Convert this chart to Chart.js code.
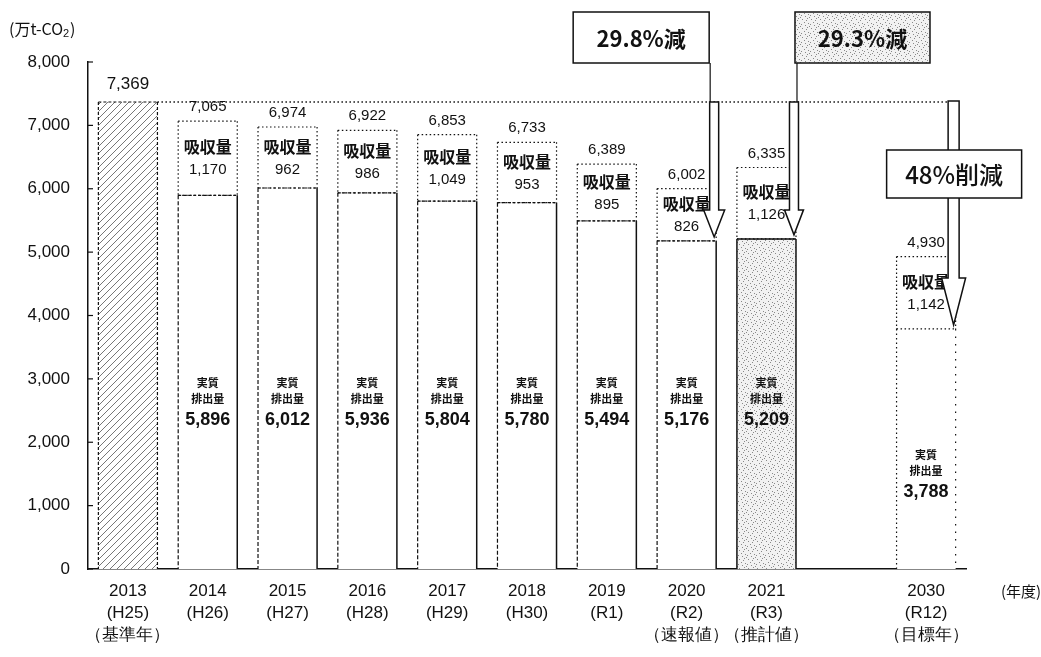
<!DOCTYPE html>
<html>
<head>
<meta charset="utf-8">
<script src="https://cdn.jsdelivr.net/npm/chart.js@4.4.0/dist/chart.umd.min.js"></script>
<style>
  body { margin: 0; background: #fff; }
</style>
</head>
<body>
<canvas id="chart" width="1041" height="657"></canvas>
<script>
// データ
const years = ['2013', '2014', '2015', '2016', '2017', '2018', '2019', '2020', '2021', '', '2030'];
const eraLabels = ['(H25)', '(H26)', '(H27)', '(H28)', '(H29)', '(H30)', '(R1)', '(R2)', '(R3)', '', '(R12)'];
const noteLabels = ['（基準年）', '', '', '', '', '', '', '（速報値）', '（推計値）', '', '（目標年）'];
const netEmissions = [7369, 5896, 6012, 5936, 5804, 5780, 5494, 5176, 5209, null, 3788];
const absorption = [null, 1170, 962, 986, 1049, 953, 895, 826, 1126, null, 1142];
const totals = [7369, 7065, 6974, 6922, 6853, 6733, 6389, 6002, 6335, null, 4930];
const baseYearValue = 7369;
const reductionLabels = ['29.8%減', '29.3%減', '48%削減'];
const reductionTargets = [7, 8, 10];
const yMax = 8000;
const yStep = 1000;

const NUM_FONT = "'Liberation Sans', Arial, sans-serif";
const JP_FONT = "'Noto Sans CJK JP', sans-serif";

function fmt(v) {
    return v.toLocaleString('en-US');
}

const categoryLabels = years.map((y, i) => {
    if (y === '') return '';
    const lines = [y, eraLabels[i]];
    if (noteLabels[i] !== '') lines.push(noteLabels[i]);
    return lines;
});

const canvas = document.getElementById('chart');
const ctx = canvas.getContext('2d');

// 斜線パターン (基準年)
function makeHatch() {
    const c = document.createElement('canvas');
    c.width = 7; c.height = 7;
    const g = c.getContext('2d');
    g.fillStyle = '#fff';
    g.fillRect(0, 0, 7, 7);
    g.strokeStyle = '#777';
    g.lineWidth = 1;
    g.beginPath();
    g.moveTo(0, 7); g.lineTo(7, 0);
    g.moveTo(-1, 1); g.lineTo(1, -1);
    g.moveTo(6, 8); g.lineTo(8, 6);
    g.stroke();
    return ctx.createPattern(c, 'repeat');
}

// 点描パターン (推計値)
function makeStipple() {
    const c = document.createElement('canvas');
    c.width = 9; c.height = 9;
    const g = c.getContext('2d');
    g.fillStyle = '#f2f2f2';
    g.fillRect(0, 0, 9, 9);
    g.fillStyle = '#8a8a8a';
    [[1, 1], [5, 2], [3, 4], [7, 5], [0, 6], [4, 7], [8, 8], [6, 0]].forEach(p => g.fillRect(p[0], p[1], 1, 1));
    return ctx.createPattern(c, 'repeat');
}

const hatch = makeHatch();
const stipple = makeStipple();

const netColors = netEmissions.map((v, i) => {
    if (i === 0) return hatch;
    if (i === 8) return stipple;
    return '#fff';
});

function line(g, x1, y1, x2, y2, dash, width) {
    g.save();
    g.setLineDash(dash || []);
    g.lineWidth = width || 1;
    g.strokeStyle = '#111';
    g.beginPath();
    g.moveTo(x1, y1);
    g.lineTo(x2, y2);
    g.stroke();
    g.restore();
}

function drawArrow(g, cx, top, tip, shaftW, headW, headL) {
    g.save();
    g.beginPath();
    g.moveTo(cx - shaftW / 2, top);
    g.lineTo(cx + shaftW / 2, top);
    g.lineTo(cx + shaftW / 2, tip - headL);
    g.lineTo(cx + headW / 2, tip - headL);
    g.lineTo(cx, tip);
    g.lineTo(cx - headW / 2, tip - headL);
    g.lineTo(cx - shaftW / 2, tip - headL);
    g.closePath();
    g.fillStyle = '#fff';
    g.fill();
    g.lineWidth = 1.5;
    g.strokeStyle = '#111';
    g.stroke();
    g.restore();
}

function drawBox(g, x, y, w, h, text, font, fill) {
    g.save();
    g.fillStyle = fill;
    g.fillRect(x, y, w, h);
    g.lineWidth = 1.5;
    g.strokeStyle = '#111';
    g.strokeRect(x, y, w, h);
    g.fillStyle = '#111';
    g.font = font;
    g.textAlign = 'center';
    g.textBaseline = 'middle';
    g.fillText(text, x + w / 2, y + h / 2 + 1);
    g.restore();
}

const decorPlugin = {
    id: 'decor',
    afterDatasetsDraw(chart) {
        const g = chart.ctx;
        const yScale = chart.scales.y;
        const area = chart.chartArea;
        const netMeta = chart.getDatasetMeta(0);
        const absMeta = chart.getDatasetMeta(1);

        // 目盛り (内向き)
        for (let v = 0; v <= yMax; v += yStep) {
            const py = yScale.getPixelForValue(v);
            line(g, area.left, py, area.left + 5, py, [], 1.2);
        }

        // 棒の枠線
        netEmissions.forEach((v, i) => {
            if (v == null) return;
            const el = netMeta.data[i];
            const l = el.x - el.width / 2, r = el.x + el.width / 2, t = el.y, b = el.base;
            if (i === 0) {
                line(g, l, t, r, t, [3, 2], 1.2);
                line(g, l, t, l, b, [3, 2], 1.2);
                line(g, r, t, r, b, [3, 2], 1.2);
            } else if (i === 10) {
                line(g, l, t, l, b, [1.5, 3], 1.2);
                line(g, r, t, r, b, [1.5, 6], 1.2);
            } else if (i === 8) {
                line(g, l, t, r, t, [], 1.5);
                line(g, l, t, l, b, [], 1.5);
                line(g, r, t, r, b, [], 1.5);
            } else {
                line(g, l, t, r, t, [3, 2], 1.2);
                line(g, l, t, l, b, [4, 2], 1.2);
                line(g, r, t, r, b, [], 1.5);
            }
        });
        absorption.forEach((v, i) => {
            if (v == null) return;
            const el = absMeta.data[i];
            const l = el.x - el.width / 2, r = el.x + el.width / 2, t = el.y, b = el.base;
            line(g, l, t, r, t, [1.5, 2.5], 1.2);
            line(g, l, t, l, b, [1.5, 2.5], 1.2);
            line(g, r, t, r, b, [1.5, 2.5], 1.2);
            line(g, l, b, r, b, [1.5, 2.5], 1.2);
        });

        g.save();
        g.fillStyle = '#111';
        g.textAlign = 'center';
        g.textBaseline = 'middle';

        // 合計値
        totals.forEach((v, i) => {
            if (v == null) return;
            const el = netMeta.data[i];
            const top = yScale.getPixelForValue(v);
            if (i === 0) {
                g.font = '17px ' + NUM_FONT;
                g.fillText(fmt(v), el.x, top - 18);
            } else {
                g.font = '15px ' + NUM_FONT;
                g.fillText(fmt(v), el.x, top - 14);
            }
        });

        // 吸収量ラベル
        absorption.forEach((v, i) => {
            if (v == null) return;
            const el = absMeta.data[i];
            const mid = (el.y + el.base) / 2;
            g.font = 'bold 16px ' + JP_FONT;
            g.fillText('吸収量', el.x, mid - 11);
            g.font = '15px ' + NUM_FONT;
            g.fillText(fmt(v), el.x, mid + 12);
        });

        // 実質排出量ラベル
        netEmissions.forEach((v, i) => {
            if (v == null || i === 0) return;
            const el = netMeta.data[i];
            const y0 = i === 10 ? yScale.getPixelForValue(1800) : yScale.getPixelForValue(2930);
            g.font = 'bold 11px ' + JP_FONT;
            g.fillText('実質', el.x, y0);
            g.fillText('排出量', el.x, y0 + 16);
            g.font = 'bold 18px ' + NUM_FONT;
            g.fillText(fmt(v), el.x, y0 + 37);
        });
        g.restore();

        // 基準年の点線
        const baseY = yScale.getPixelForValue(baseYearValue);
        const first = netMeta.data[0];
        const last = netMeta.data[10];
        line(g, first.x + first.width / 2, baseY, last.x + last.width / 2 - 2, baseY, [1.5, 2.5], 1.5);

        // 矢印と削減率
        reductionTargets.forEach((idx, k) => {
            const el = netMeta.data[idx];
            const cx = el.x + el.width / 2 - 2;
            const tip = yScale.getPixelForValue(netEmissions[idx]) - 4;
            if (k === 2) {
                drawArrow(g, cx, baseY - 1, tip, 11, 24, 47);
                drawBox(g, cx - 67, 150, 135, 48, reductionLabels[k], '500 24px ' + JP_FONT, '#fff');
            } else if (k === 0) {
                drawArrow(g, cx, baseY, tip, 9, 21, 27);
                line(g, cx - 4, 63, cx - 4, baseY, [], 1.2);
                drawBox(g, cx - 141, 12, 136, 51, reductionLabels[k], 'bold 22px ' + JP_FONT, '#fff');
            } else {
                drawArrow(g, cx, baseY, tip, 9, 19, 25);
                line(g, cx + 3, 63, cx + 3, baseY, [], 1.2);
                drawBox(g, cx + 1, 12, 135, 51, reductionLabels[k], 'bold 22px ' + JP_FONT, stipple);
            }
        });

        // 単位
        g.save();
        g.fillStyle = '#111';
        g.textBaseline = 'middle';
        g.textAlign = 'left';
        g.font = '16px ' + JP_FONT;
        g.fillText('(万t-CO', 9, 29);
        const w = g.measureText('(万t-CO').width;
        g.font = '11px ' + NUM_FONT;
        g.fillText('2', 9 + w, 34);
        g.font = '16px ' + JP_FONT;
        g.fillText(')', 9 + w + 7, 29);
        g.font = '15px ' + JP_FONT;
        g.fillText('(年度)', 1001, 591);
        g.restore();
    }
};

new Chart(ctx, {
    type: 'bar',
    data: {
        labels: categoryLabels,
        datasets: [
            {
                label: '実質排出量',
                data: netEmissions,
                backgroundColor: netColors,
                borderWidth: 0,
                categoryPercentage: 1,
                barPercentage: 0.74
            },
            {
                label: '吸収量',
                data: absorption,
                backgroundColor: '#fff',
                borderWidth: 0,
                categoryPercentage: 1,
                barPercentage: 0.74
            }
        ]
    },
    options: {
        responsive: false,
        animation: false,
        devicePixelRatio: 1,
        layout: { padding: { top: 62, right: 75, left: 0, bottom: 0 } },
        plugins: {
            legend: { display: false },
            tooltip: { enabled: false }
        },
        scales: {
            x: {
                stacked: true,
                grid: { display: false, drawTicks: false },
                border: { display: true, color: '#111', width: 1.5 },
                ticks: {
                    color: '#111',
                    font: { family: NUM_FONT, size: 17, lineHeight: 1.3 },
                    padding: 11,
                    autoSkip: false,
                    maxRotation: 0
                },
                afterFit(scale) { scale.height = 88; }
            },
            y: {
                stacked: true,
                min: 0,
                max: yMax,
                grid: { display: false, drawTicks: false },
                border: { display: true, color: '#111', width: 1.5 },
                ticks: {
                    stepSize: yStep,
                    color: '#111',
                    padding: 18,
                    font: { family: NUM_FONT, size: 17 },
                    callback: v => fmt(v)
                },
                afterFit(scale) { scale.width = 88; }
            }
        }
    },
    plugins: [decorPlugin]
});
</script>
</body>
</html>
